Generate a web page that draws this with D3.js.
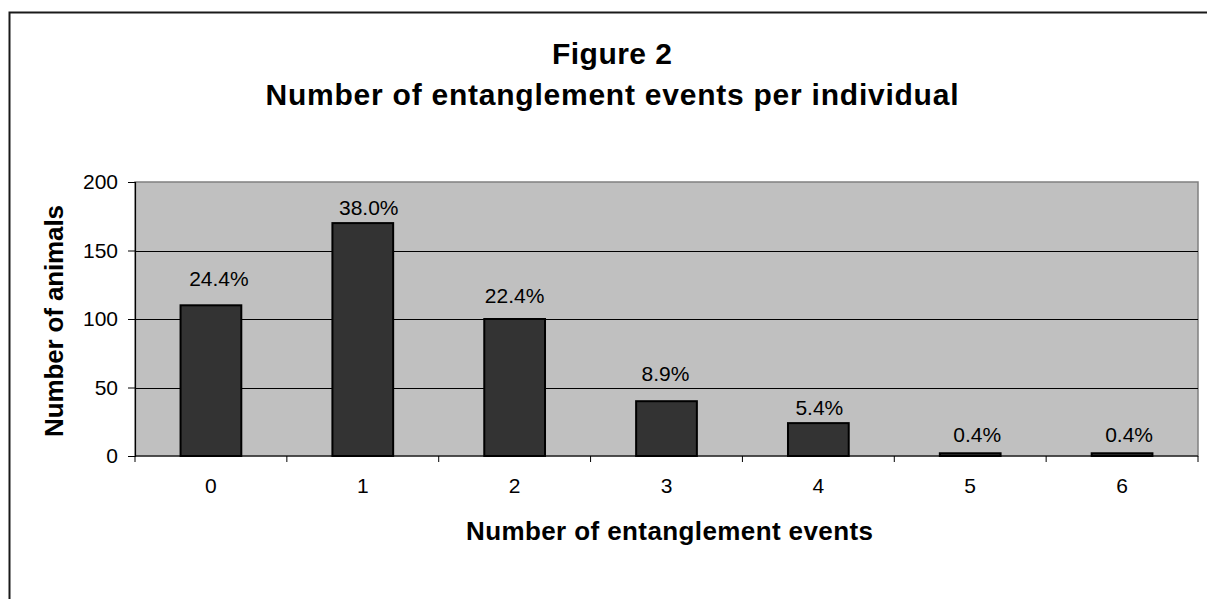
<!DOCTYPE html>
<html>
<head>
<meta charset="utf-8">
<script src="https://cdn.jsdelivr.net/npm/d3@7"></script>
<style>
  html, body { margin: 0; padding: 0; background: #fff; }
  svg { display: block; }
  text { font-family: Arial, "Liberation Sans", sans-serif; fill: #000; }
</style>
</head>
<body>
<svg id="chart" width="1207" height="599"></svg>
<script>
// ---- data ----
const categories = ["0", "1", "2", "3", "4", "5", "6"];
const animals = [110, 170, 100, 40, 24, 2, 2];
const percentLabels = ["24.4%", "38.0%", "22.4%", "8.9%", "5.4%", "0.4%", "0.4%"];
const yTicks = [0, 50, 100, 150, 200];
const titleLines = ["Figure 2", "Number of entanglement events per individual"];
const xTitle = "Number of entanglement events";
const yTitle = "Number of animals";

// ---- layout (label nudges as placed in the original) ----
const labelDx = [8, 6, 0, -1, 1, 7, 7];
const labelDy = [19, 8, 16, 20, 8, 11, 11];

const W = 1207, H = 599;
const plot = { left: 135, right: 1198, top: 182, bottom: 456 };

const svg = d3.select("#chart");

// outer chart frame (extends past the window on right/bottom)
svg.append("rect")
  .attr("x", 9.5).attr("y", 12.5)
  .attr("width", W + 20).attr("height", H + 20)
  .attr("fill", "#fff").attr("stroke", "#1a1a1a").attr("stroke-width", 2);

const x = d3.scaleBand()
  .domain(categories)
  .range([plot.left, plot.right])
  .paddingInner(0.6)
  .paddingOuter(0.3);

const y = d3.scaleLinear()
  .domain([0, 200])
  .range([plot.bottom, plot.top]);

// plot background
svg.append("rect")
  .attr("x", plot.left).attr("y", plot.top)
  .attr("width", plot.right - plot.left).attr("height", plot.bottom - plot.top)
  .attr("fill", "#c0c0c0")
  .attr("stroke", "#808080").attr("stroke-width", 1.5);

// gridlines
svg.append("g").selectAll("line")
  .data(yTicks.filter(d => d > 0 && d < 200))
  .join("line")
  .attr("x1", plot.left).attr("x2", plot.right)
  .attr("y1", d => Math.round(y(d)) + 0.5).attr("y2", d => Math.round(y(d)) + 0.5)
  .attr("stroke", "#000").attr("stroke-width", 1);

// y axis
const yAxis = svg.append("g")
  .attr("transform", `translate(${plot.left},0)`)
  .call(d3.axisLeft(y).tickValues(yTicks).tickSize(7).tickPadding(10));
yAxis.select(".domain").attr("stroke", "#000").attr("stroke-width", 1.2);
yAxis.selectAll(".tick line").attr("stroke", "#000");
yAxis.selectAll(".tick text")
  .style("font-family", "Arial, 'Liberation Sans', sans-serif")
  .style("font-size", "21px").attr("fill", "#000");

// bars
svg.append("g").selectAll("rect")
  .data(animals)
  .join("rect")
  .attr("x", (d, i) => x(categories[i]))
  .attr("y", d => y(d))
  .attr("width", x.bandwidth())
  .attr("height", d => y(0) - y(d))
  .attr("fill", "#333333")
  .attr("stroke", "#000").attr("stroke-width", 2);

// x axis line
svg.append("line")
  .attr("x1", plot.left).attr("x2", plot.right)
  .attr("y1", y(0)).attr("y2", y(0))
  .attr("stroke", "#000").attr("stroke-width", 1.2);

// x boundary ticks
const step = x.step();
svg.append("g").selectAll("line")
  .data(d3.range(categories.length + 1))
  .join("line")
  .attr("x1", k => plot.left + k * step).attr("x2", k => plot.left + k * step)
  .attr("y1", y(0)).attr("y2", y(0) + 6)
  .attr("stroke", "#000").attr("stroke-width", 1);

// x tick labels
const xAxis = svg.append("g")
  .attr("transform", `translate(0,${plot.bottom})`)
  .call(d3.axisBottom(x).tickSize(0).tickPadding(22));
xAxis.select(".domain").remove();
xAxis.selectAll(".tick text")
  .style("font-family", "Arial, 'Liberation Sans', sans-serif")
  .style("font-size", "21px").attr("fill", "#000");

// data labels
svg.append("g").selectAll("text")
  .data(animals)
  .join("text")
  .attr("x", (d, i) => x(categories[i]) + x.bandwidth() / 2 + labelDx[i])
  .attr("y", (d, i) => y(d) - labelDy[i])
  .attr("text-anchor", "middle")
  .style("font-size", "21px")
  .text((d, i) => percentLabels[i]);

// titles
svg.append("text")
  .attr("x", 612).attr("y", 64)
  .attr("text-anchor", "middle")
  .style("font-size", "30px").style("font-weight", "bold")
  .attr("textLength", 120).attr("lengthAdjust", "spacing")
  .text(titleLines[0]);
svg.append("text")
  .attr("x", 612).attr("y", 105)
  .attr("text-anchor", "middle")
  .style("font-size", "30px").style("font-weight", "bold")
  .attr("textLength", 693).attr("lengthAdjust", "spacing")
  .text(titleLines[1]);

// axis titles
svg.append("text")
  .attr("x", (plot.left + plot.right) / 2 + 3).attr("y", 540)
  .attr("text-anchor", "middle")
  .style("font-size", "26px").style("font-weight", "bold")
  .attr("textLength", 407).attr("lengthAdjust", "spacing")
  .text(xTitle);
svg.append("text")
  .attr("transform", `translate(63,321) rotate(-90)`)
  .attr("text-anchor", "middle")
  .style("font-size", "26px").style("font-weight", "bold")
  .attr("textLength", 232).attr("lengthAdjust", "spacing")
  .text(yTitle);
</script>
</body>
</html>
